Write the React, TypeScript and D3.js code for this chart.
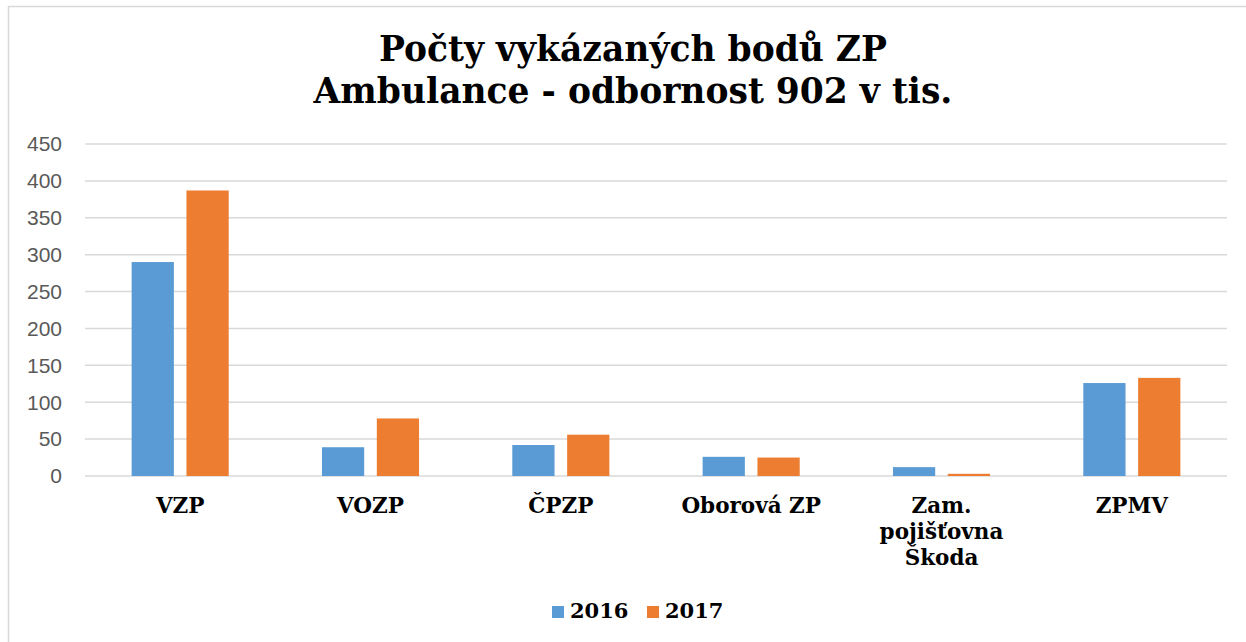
import React from "react";
import * as d3 from "d3";

const categories = ["VZP", "VOZP", "ČPZP", "Oborová ZP", "Zam.\npojišťovna\nŠkoda", "ZPMV"];
const seriesNames = ["2016", "2017"];
const values2016 = [290, 39, 42, 26, 12, 126];
const values2017 = [387, 78, 56, 25, 3, 133];
const yTicks = [0, 50, 100, 150, 200, 250, 300, 350, 400, 450];
const titleLines = ["Počty vykázaných bodů ZP", "Ambulance - odbornost 902 v tis."];

const colors = ["#5b9bd5", "#ed7d31"];

const W = 1246;
const H = 642;
const margin = { top: 144, right: 19, bottom: 166, left: 85 };
const serif = "'DejaVu Serif', Georgia, serif";
const sans = "'Liberation Sans', Arial, sans-serif";

export default function App() {
  const series = [values2016, values2017];
  const innerW = W - margin.left - margin.right;
  const innerH = H - margin.top - margin.bottom;

  const x0 = d3.scaleBand<string>()
    .domain(categories)
    .range([margin.left, margin.left + innerW])
    .paddingInner(0.49)
    .paddingOuter(0.245);
  const x1 = d3.scaleBand<string>()
    .domain(seriesNames)
    .range([0, x0.bandwidth()])
    .paddingInner(0.23);
  const y = d3.scaleLinear()
    .domain([0, 450])
    .range([margin.top + innerH, margin.top]);

  const titleX = 633;

  return (
    <div style={{ position: "absolute", left: 0, top: 0, width: W, height: H, background: "#fff" }}>
      <svg width={W} height={H}>
        <rect x={8.5} y={6.5} width={1250} height={640} fill="#fff" stroke="#d9d9d9" strokeWidth={1.5} />
        {/* title */}
        {titleLines.map((t, i) => (
          <text key={i} x={titleX} y={61 + i * 42} textAnchor="middle"
            fontFamily={serif} fontWeight="bold" fontSize={34.5} fill="#000">{t}</text>
        ))}
        {/* grid + y labels */}
        {yTicks.map(t => (
          <g key={t}>
            <line x1={margin.left} x2={margin.left + innerW} y1={y(t)} y2={y(t)}
              stroke="#d9d9d9" strokeWidth={1.5} />
            <text x={62} y={y(t)} dy="0.35em" textAnchor="end" fontFamily={sans}
              fontSize={21} fill="#595959">{t}</text>
          </g>
        ))}
        {/* bars */}
        {categories.map((c, ci) => (
          <g key={c} transform={`translate(${x0(c)},0)`}>
            {series.map((s, si) => (
              <rect key={si} x={x1(seriesNames[si])} y={y(s[ci])}
                width={x1.bandwidth()} height={y(0) - y(s[ci])} fill={colors[si]} />
            ))}
          </g>
        ))}
        {/* category labels */}
        {categories.map(c => (
          <text key={c} x={(x0(c) as number) + x0.bandwidth() / 2} y={513} textAnchor="middle"
            fontFamily={serif} fontWeight="bold" fontSize={21.5} fill="#000">
            {c.split("\n").map((line, li) => (
              <tspan key={li} x={(x0(c) as number) + x0.bandwidth() / 2} dy={li === 0 ? 0 : 26}>{line}</tspan>
            ))}
          </text>
        ))}
        {/* legend */}
        {seriesNames.map((n, i) => (
          <g key={n} transform={`translate(${552 + i * 95},606)`}>
            <rect x={0} y={0} width={12} height={12} fill={colors[i]} />
            <text x={18} y={12} fontFamily={serif} fontWeight="bold" fontSize={21} fill="#000">{n}</text>
          </g>
        ))}
      </svg>
    </div>
  );
}
